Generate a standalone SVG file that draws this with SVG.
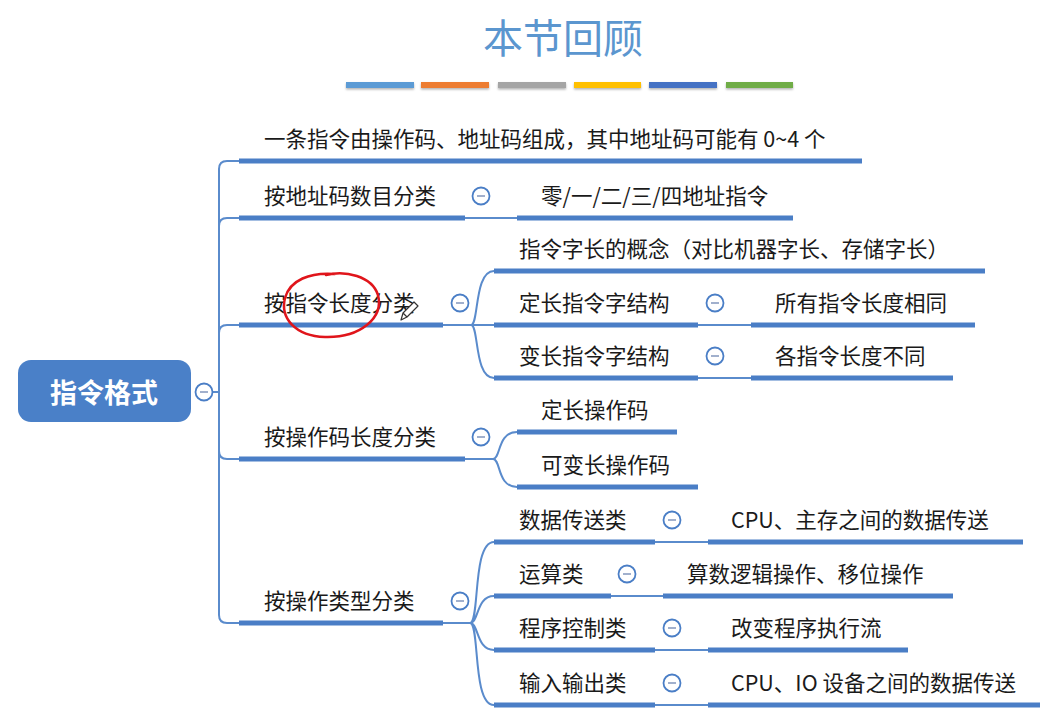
<svg xmlns="http://www.w3.org/2000/svg" width="1062" height="722" viewBox="0 0 1062 722">
<style>
.t{font-family:"Noto Sans CJK SC","Noto Sans",sans-serif;font-size:21.5px;fill:#1a1a1a}
.ul{stroke:#4a7ec6;stroke-width:5;fill:none}
.cn{stroke:#5a8bcc;stroke-width:2;fill:none}
.cc{fill:#fff;stroke:#4a7ec6;stroke-width:1.8}
.cm{stroke:#8a9cc0;stroke-width:1.6}
</style>
<defs>
<filter id="sh" x="-5%" y="-50%" width="110%" height="250%"><feDropShadow dx="0" dy="1.5" stdDeviation="1" flood-color="#000" flood-opacity="0.3"/></filter>
</defs>
<rect width="1062" height="722" fill="#fff"/>
<text x="563" y="53" text-anchor="middle" style="font-family:'Noto Sans CJK SC',sans-serif;font-size:40px;fill:#5b96cf">本节回顾</text>
<g filter="url(#sh)">
<rect x="346" y="82" width="68" height="6" fill="#5b9bd5"/>
<rect x="421" y="82" width="68" height="6" fill="#ed7d31"/>
<rect x="498" y="82" width="68" height="6" fill="#a5a5a5"/>
<rect x="574" y="82" width="67" height="6" fill="#ffc000"/>
<rect x="649" y="82" width="68" height="6" fill="#4472c4"/>
<rect x="726" y="82" width="67" height="6" fill="#70ad47"/>
</g>
<g id="connectors">
<path class="cn" d="M213 392 H219 V169 Q219 161 227 161 H240"/>
<path class="cn" d="M219 226 Q219 218 227 218 H240"/>
<path class="cn" d="M219 333 Q219 325 227 325 H240"/>
<path class="cn" d="M219 392 V451 Q219 459 227 459 H240"/>
<path class="cn" d="M219 451 V615 Q219 623 227 623 H240"/>
<path class="cn" d="M465 218 H517"/>
<path class="cn" d="M443 325 H471 M471 325 C479 325 474 271 494 271 M471 325 H494 M471 325 C479 325 474 378 494 378"/>
<path class="cn" d="M698 325 H751 M698 378 H751"/>
<path class="cn" d="M465 459 H493 M493 459 C501 459 497 432 517 432 M493 459 C501 459 497 487 517 487"/>
<path class="cn" d="M443 623 H470 M470 623 C480 623 472 542 494 542 M470 623 C479 623 476 596 494 596 M470 623 C479 623 476 650 494 650 M470 623 C480 623 472 705 494 705"/>
<path class="cn" d="M655 542 H708 M611 596 H663 M655 650 H708 M655 705 H708"/>
</g>
<g id="root">
<rect x="18" y="360" width="173" height="62" rx="13" fill="#4a80c8"/>
<text x="104" y="403" text-anchor="middle" style="font-family:'Noto Sans CJK SC',sans-serif;font-size:27px;font-weight:bold;fill:#fff">指令格式</text>
<circle class="cc" cx="204" cy="392" r="8.5"/><line class="cm" x1="200" y1="392" x2="208" y2="392"/>
</g>
<g id="n1"><line class="ul" x1="239" y1="161" x2="862" y2="161"/><text class="t" x="264" y="147">一条指令由操作码、地址码组成，其中地址码可能有 0~4 个</text></g>
<g id="n2"><line class="ul" x1="239" y1="218" x2="465" y2="218"/><text class="t" x="264" y="204">按地址码数目分类</text>
<circle class="cc" cx="481" cy="196" r="8.5"/><line class="cm" x1="477" y1="196" x2="485" y2="196"/></g>
<g id="n2a"><line class="ul" x1="517" y1="218" x2="793" y2="218"/><text class="t" x="541" y="204">零/一/二/三/四地址指令</text></g>
<g id="n3"><line class="ul" x1="239" y1="325" x2="443" y2="325"/><text class="t" x="264" y="311">按指令长度分类</text>
<circle class="cc" cx="460" cy="303" r="8.5"/><line class="cm" x1="456" y1="303" x2="464" y2="303"/></g>
<g id="n3a"><line class="ul" x1="494" y1="271" x2="985" y2="271"/><text class="t" x="519" y="257">指令字长的概念（对比机器字长、存储字长）</text></g>
<g id="n3b"><line class="ul" x1="494" y1="325" x2="698" y2="325"/><text class="t" x="519" y="311">定长指令字结构</text>
<circle class="cc" cx="715" cy="303" r="8.5"/><line class="cm" x1="711" y1="303" x2="719" y2="303"/></g>
<g id="n3b1"><line class="ul" x1="751" y1="325" x2="975" y2="325"/><text class="t" x="775" y="311">所有指令长度相同</text></g>
<g id="n3c"><line class="ul" x1="494" y1="378" x2="698" y2="378"/><text class="t" x="519" y="364">变长指令字结构</text>
<circle class="cc" cx="715" cy="356" r="8.5"/><line class="cm" x1="711" y1="356" x2="719" y2="356"/></g>
<g id="n3c1"><line class="ul" x1="751" y1="378" x2="953" y2="378"/><text class="t" x="775" y="364">各指令长度不同</text></g>
<g id="n4"><line class="ul" x1="239" y1="459" x2="465" y2="459"/><text class="t" x="264" y="445">按操作码长度分类</text>
<circle class="cc" cx="481" cy="437" r="8.5"/><line class="cm" x1="477" y1="437" x2="485" y2="437"/></g>
<g id="n4a"><line class="ul" x1="517" y1="432" x2="677" y2="432"/><text class="t" x="541" y="418">定长操作码</text></g>
<g id="n4b"><line class="ul" x1="517" y1="487" x2="698" y2="487"/><text class="t" x="541" y="473">可变长操作码</text></g>
<g id="n5"><line class="ul" x1="239" y1="623" x2="443" y2="623"/><text class="t" x="264" y="609">按操作类型分类</text>
<circle class="cc" cx="460" cy="601" r="8.5"/><line class="cm" x1="456" y1="601" x2="464" y2="601"/></g>
<g id="n5a"><line class="ul" x1="494" y1="542" x2="655" y2="542"/><text class="t" x="519" y="528">数据传送类</text>
<circle class="cc" cx="672" cy="520" r="8.5"/><line class="cm" x1="668" y1="520" x2="676" y2="520"/></g>
<g id="n5a1"><line class="ul" x1="708" y1="542" x2="1023" y2="542"/><text class="t" x="731" y="528">CPU、主存之间的数据传送</text></g>
<g id="n5b"><line class="ul" x1="494" y1="596" x2="611" y2="596"/><text class="t" x="519" y="582">运算类</text>
<circle class="cc" cx="627" cy="574" r="8.5"/><line class="cm" x1="623" y1="574" x2="631" y2="574"/></g>
<g id="n5b1"><line class="ul" x1="663" y1="596" x2="953" y2="596"/><text class="t" x="687" y="582">算数逻辑操作、移位操作</text></g>
<g id="n5c"><line class="ul" x1="494" y1="650" x2="655" y2="650"/><text class="t" x="519" y="636">程序控制类</text>
<circle class="cc" cx="672" cy="628" r="8.5"/><line class="cm" x1="668" y1="628" x2="676" y2="628"/></g>
<g id="n5c1"><line class="ul" x1="708" y1="650" x2="908" y2="650"/><text class="t" x="731" y="636">改变程序执行流</text></g>
<g id="n5d"><line class="ul" x1="494" y1="705" x2="655" y2="705"/><text class="t" x="519" y="691">输入输出类</text>
<circle class="cc" cx="672" cy="683" r="8.5"/><line class="cm" x1="668" y1="683" x2="676" y2="683"/></g>
<g id="n5d1"><line class="ul" x1="708" y1="705" x2="1040" y2="705"/><text class="t" x="731" y="691">CPU、IO 设备之间的数据传送</text></g>
<g id="annotation">
<path d="M326 275 C345 270 372 276 378 295 C384 318 360 338 325 337 C295 336 280 318 285 298 C290 280 310 272 335 274" fill="none" stroke="#e0151b" stroke-width="2.5" stroke-linecap="round"/>
<path d="M401 320 L403 313 L414 302 L418 306 L407 317 Z M403 313 L407 317" fill="#fff" stroke="#333" stroke-width="1.2" stroke-linejoin="round"/>
</g>
</svg>
